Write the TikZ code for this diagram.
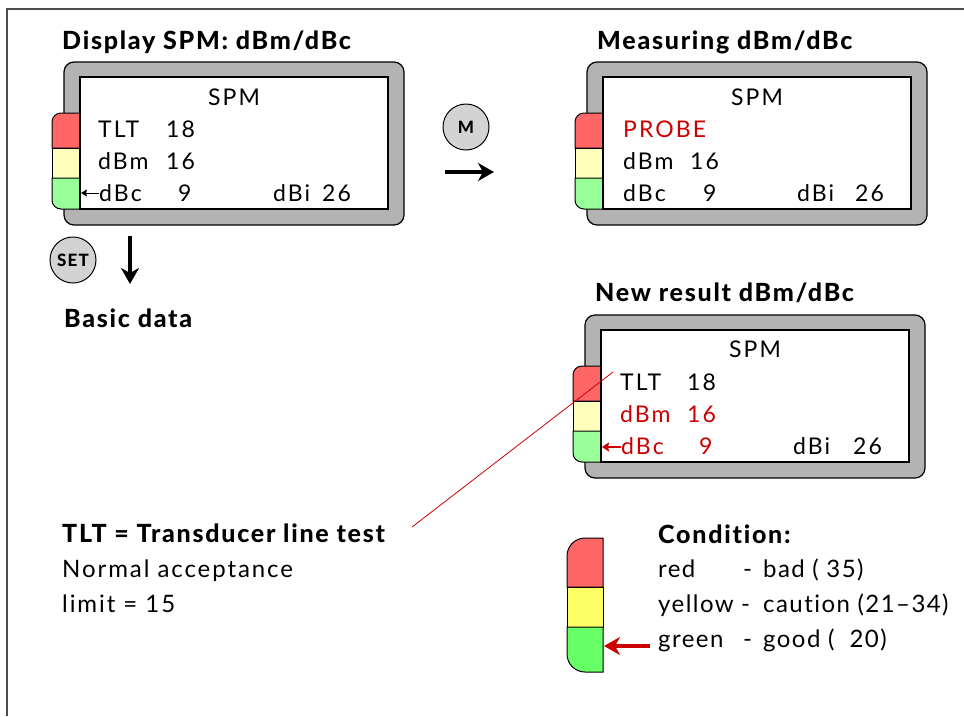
\documentclass[tikz,border=0pt]{standalone}
\usepackage{fontspec}
\setmainfont{Lato}[LetterSpace=9, Ligatures=NoCommon]
\IfFontExistsTF{Lato Heavy}
  {\newfontfamily\headfam{Lato Heavy}[LetterSpace=7, Ligatures=NoCommon]}
  {\newfontfamily\headfam{Lato}[LetterSpace=9, Ligatures=NoCommon, UprightFont=*, BoldFont=* Bold]\let\oldheadfam\headfam
   \renewcommand{\headfam}{\oldheadfam\bfseries}}
\usetikzlibrary{arrows.meta}

\definecolor{casegray}{HTML}{B3B3B3}
\definecolor{btngray}{HTML}{D3D3D3}
\definecolor{framegray}{HTML}{4D4D4D}
\definecolor{tabred}{HTML}{FF6666}
\definecolor{tabyellow}{HTML}{FFFFBB}
\definecolor{tabgreen}{HTML}{99FF99}
\definecolor{legred}{HTML}{FF6666}
\definecolor{legyellow}{HTML}{FFFF66}
\definecolor{leggreen}{HTML}{66FF66}
\definecolor{alertred}{HTML}{CC0000}

\newcommand{\dispfont}{\fontsize{23}{28}\selectfont}
\newcommand{\headfont}{\headfam\fontsize{25}{30}\selectfont}
\newcommand{\bodyfont}{\fontsize{24}{29}\selectfont\addfontfeature{LetterSpace=8}}
\newcommand{\legfont}{\fontsize{24}{29}\selectfont\addfontfeature{LetterSpace=6}}
\newcommand{\btnfont}{\headfam\fontsize{17}{19}\selectfont}

\tikzset{
  casebox/.style={draw=black, line width=1.2pt, fill=casegray, rounded corners=10pt},
  screenbox/.style={draw=black, line width=1.2pt, fill=white},
  tabline/.style={draw=black, line width=1pt},
  disptxt/.style={anchor=base west, inner sep=0pt, font=\dispfont},
  dispmid/.style={anchor=base, inner sep=0pt, font=\dispfont},
  headtxt/.style={anchor=base west, inner sep=0pt, font=\headfont},
  bodytxt/.style={anchor=base west, inner sep=0pt, font=\bodyfont},
  legtxt/.style={anchor=base west, inner sep=0pt, font=\legfont},
  button/.style={circle, draw=black, line width=1pt, fill=btngray,
    minimum size=46pt, inner sep=0pt, font=\btnfont},
  bigarrow/.style={line width=4pt, -{Stealth[length=16pt, width=18pt, inset=5pt]}},
  smallarrow/.style={line width=1pt, -{Stealth[length=6pt, width=7pt, inset=1pt]}},
}

% case, coloured tab and screen of one SPM display; origin = top left of the case
\newcommand{\spmcase}[2]{%
  \begin{scope}[shift={(#1,#2)}]
    \draw[casebox] (0,0) rectangle (340,163);
    \draw[tabline, fill=tabred] (16,51) -- (-3,51)
      arc[start angle=270, end angle=180, radius=9] -- (-12,86) -- (16,86) -- cycle;
    \draw[tabline, fill=tabyellow] (16,86) rectangle (-12,116);
    \draw[tabline, fill=tabgreen] (16,116) -- (-12,116) -- (-12,138)
      arc[start angle=180, end angle=90, radius=9] -- (16,147) -- cycle;
    \draw[screenbox] (16,15) rectangle (324,147);
  \end{scope}}

\begin{document}
\begin{tikzpicture}[x=1pt, y=-1pt]
\useasboundingbox (0,0) rectangle (964,716);

% outer frame
\draw[framegray, line width=2pt] (7,716) -- (7,9) -- (964,9);

% ---- display: dBm/dBc ----
\node[headtxt] (h1) at (62,49) {Display SPM: dBm/dBc};
\spmcase{64}{62}
\node[dispmid] (a0) at (234,105) {SPM};
\node[disptxt] (a1) at (98,137) {TLT};
\node[disptxt] (a1v) at (166,137) {18};
\node[disptxt] (a2) at (98,169) {dBm};
\node[disptxt] (a2v) at (166,169) {16};
\node[disptxt] (a3) at (99,201) {dBc};
\node[disptxt] (a3v) at (178,201) {9};
\node[disptxt] (a4) at (273,201) {dBi};
\node[disptxt] (a4v) at (322,201) {26};
\coordinate (a3tip) at (81,193);
\draw[smallarrow] (a3.west |- a3tip) -- (a3tip);

% SET button and arrow down to the basic data
\node[button] (set) at (73,260) {SET};
\coordinate (setA) at (130,236);
\coordinate (setB) at (130,284);
\draw[bigarrow] (setA) -- (setB);
\node[headtxt] (h4) at (64,327) {Basic data};

% M button and arrow to the measuring display
\node[button] (mbtn) at (466,127) {M};
\coordinate (mA) at (445,172);
\coordinate (mB) at (494,172);
\draw[bigarrow] (mA) -- (mB);

% ---- display: measuring ----
\node[headtxt] (h2) at (597,49) {Measuring dBm/dBc};
\spmcase{587}{62}
\node[dispmid] (b0) at (757,105) {SPM};
\node[disptxt, text=alertred] (b1) at (623,137) {PROBE};
\node[disptxt] (b2) at (623,169) {dBm};
\node[disptxt] (b2v) at (690,169) {16};
\node[disptxt] (b3) at (623,201) {dBc};
\node[disptxt] (b3v) at (703,201) {9};
\node[disptxt] (b4) at (797,201) {dBi};
\node[disptxt] (b4v) at (855,201) {26};

% ---- display: new result ----
\node[headtxt] (h3) at (595,301) {New result dBm/dBc};
\spmcase{585}{315}
\node[dispmid] (c0) at (755,357) {SPM};
\node[disptxt] (c1) at (620,390) {TLT};
\node[disptxt] (c1v) at (687,390) {18};
\node[disptxt, text=alertred] (c2) at (620,422) {dBm};
\node[disptxt, text=alertred] (c2v) at (687,422) {16};
\node[disptxt, text=alertred] (c3) at (621,454) {dBc};
\node[disptxt, text=alertred] (c3v) at (699,454) {9};
\node[disptxt] (c4) at (793,454) {dBi};
\node[disptxt] (c4v) at (853,454) {26};
\coordinate (c3tip) at (602,447);
\draw[alertred, line width=2pt, -{Stealth[length=7pt, width=9pt, inset=1pt]}] (c3.west |- c3tip) -- (c3tip);

% ---- TLT explanation ----
\node[headtxt] (tlt) at (62,542) {TLT = Transducer line test};
\node[bodytxt] (n1) at (62,577) {Normal acceptance};
\node[bodytxt] (n2) at (62,612) {limit = 15};
\coordinate (tltend) at (412,527);
\coordinate (tltstart) at (613,372);
\draw[alertred, line width=0.8pt] (tltstart) -- (tltend);

% ---- condition legend ----
\draw[tabline, fill=legred] (603,538) -- (585,538)
  arc[start angle=270, end angle=180, radius=18] -- (567,587) -- (603,587) -- cycle;
\draw[tabline, fill=legyellow] (603,587) rectangle (567,627);
\draw[tabline, fill=leggreen] (603,627) -- (567,627) -- (567,654)
  arc[start angle=180, end angle=90, radius=18] -- (603,672) -- cycle;
\coordinate (legtip) at (604,646);
\coordinate (legtail) at (650,646);
\draw[alertred, line width=4pt, -{Stealth[length=16pt, width=18pt, inset=5pt]}] (legtail) -- (legtip);

\node[headtxt] (cond) at (658,543) {Condition:};
\node[legtxt] (r1) at (658,577) {red};
\node[legtxt] (r2) at (743,577) {-};
\node[legtxt] (r3) at (763,577) {bad ( 35)};
\node[legtxt] (y1) at (658,612) {yellow};
\node[legtxt] (y2) at (741,612) {-};
\node[legtxt] (y3) at (763,612) {caution (21–34)};
\node[legtxt] (g1) at (658,647) {green};
\node[legtxt] (g2) at (743,647) {-};
\node[legtxt] (g3) at (763,647) {good (\ \ 20)};
\end{tikzpicture}
\end{document}
